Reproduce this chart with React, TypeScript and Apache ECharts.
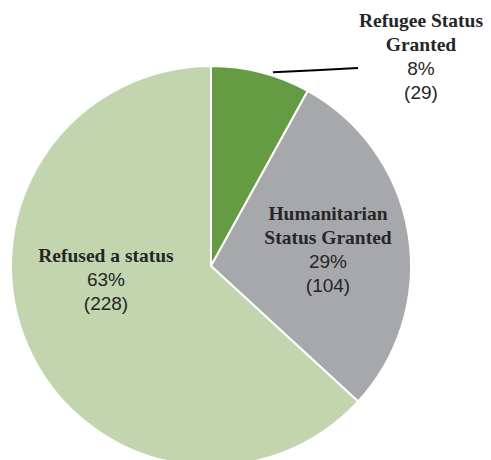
import React, { useEffect, useRef } from "react";
import * as echarts from "echarts";

const categories = ["Refugee Status\nGranted", "Humanitarian\nStatus Granted", "Refused a status"];
const values = [29, 104, 228];
const colors = ["#659b43", "#a7a8ab", "#c2d5af"];
// label centres (layout only)
const labelCenters = [
  [421, 56],
  [328, 249],
  [106, 279],
];

export default function App() {
  const ref = useRef<HTMLDivElement>(null);
  useEffect(() => {
    if (!ref.current) return;
    const chart = echarts.init(ref.current, null, { renderer: "svg" });
    chart.setOption({
      animation: false,
      series: [
        {
          type: "pie",
          center: [211, 266],
          radius: 200,
          startAngle: 90,
          clockwise: true,
          itemStyle: { borderColor: "#fff", borderWidth: 2 },
          data: categories.map((c, i) => ({
            name: c,
            value: values[i],
            itemStyle: { color: colors[i] },
            label: { position: i === 0 ? "outside" : "inside" },
            labelLine: { show: i === 0 },
          })),
          label: {
            show: true,
            formatter: (p: any) =>
              String(p.name)
                .split("\n")
                .map((s: string) => `{n|${s}}`)
                .join("\n") +
              `\n{v|${Math.round(p.percent)}%}\n{v|(${p.value})}`,
            align: "center",
            rich: {
              n: {
                fontFamily: "Liberation Serif",
                fontWeight: "bold",
                fontSize: 19.5,
                color: "#262626",
                lineHeight: 24,
                align: "center",
              },
              v: {
                fontFamily: "Liberation Sans",
                fontSize: 19,
                color: "#262626",
                lineHeight: 24,
                align: "center",
              },
            },
          },
          labelLine: {
            show: true,
            length: 10,
            length2: 60,
            lineStyle: { color: "#000", width: 2 },
          },
          labelLayout: (params: any) => {
            const [x, y] = labelCenters[params.dataIndex];
            const res: any = { x, y, align: "center", verticalAlign: "middle" };
            if (params.dataIndex === 0 && params.labelLinePoints) {
              const p0 = params.labelLinePoints[0];
              const start = [p0[0] + 12, p0[1]];
              const end = [358, y + 12];
              res.labelLinePoints = [start, [(start[0] + end[0]) / 2, (start[1] + end[1]) / 2], end];
            }
            return res;
          },
        },
      ],
    });
    return () => chart.dispose();
  }, []);
  return (
    <div
      ref={ref}
      style={{ position: "fixed", left: 0, top: 0, width: 491, height: 460, background: "#fff" }}
    />
  );
}
